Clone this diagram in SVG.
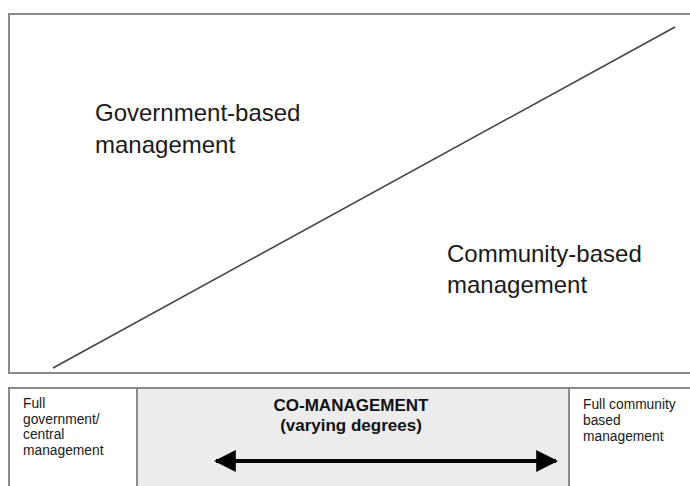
<svg xmlns="http://www.w3.org/2000/svg" width="690" height="486" viewBox="0 0 690 486">
<defs>
<style>
.frame{fill:none;stroke:#8a8a8a;stroke-width:2}
.big{font-family:"Liberation Sans",Arial,sans-serif;font-size:24px;fill:#1a1a1a}
.small{font-family:"Liberation Sans",Arial,sans-serif;font-size:13.8px;fill:#1a1a1a}
.bold{font-family:"Liberation Sans",Arial,sans-serif;font-size:17px;font-weight:bold;fill:#111;text-anchor:middle}
</style>
<marker id="ah" viewBox="0 0 10 10" refX="9" refY="5" markerWidth="5.5" markerHeight="5.5" markerUnits="strokeWidth" orient="auto-start-reverse">
<path d="M0,0 L10,5 L0,10 z" fill="#000"/>
</marker>
</defs>
<rect width="690" height="486" fill="#fff"/>
<g id="top-panel">
<path class="frame" d="M700,14 H9 V373 H700"/>
</g>
<g id="connectors">
<line x1="53" y1="368" x2="675" y2="27" stroke="#444" stroke-width="1.6"/>
</g>
<g id="government-label">
<text class="big" x="95" y="121">Government-based</text>
<text class="big" x="95" y="153">management</text>
</g>
<g id="community-label">
<text class="big" x="447" y="262">Community-based</text>
<text class="big" x="447" y="293">management</text>
</g>
<g id="bottom-panel">
<rect x="137" y="388" width="432" height="100" fill="#ececec"/>
<path class="frame" d="M9,490 V388 H700"/>
<line class="frame" x1="137" y1="388" x2="137" y2="490"/>
<line class="frame" x1="569" y1="388" x2="569" y2="490"/>
</g>
<g id="full-government">
<text class="small" x="23" y="408">Full</text>
<text class="small" x="23" y="424">government/</text>
<text class="small" x="23" y="439">central</text>
<text class="small" x="23" y="455">management</text>
</g>
<g id="co-management">
<text class="bold" x="351" y="411">CO-MANAGEMENT</text>
<text class="bold" x="351" y="431">(varying degrees)</text>
<line x1="216" y1="461" x2="556" y2="461" stroke="#000" stroke-width="4" marker-start="url(#ah)" marker-end="url(#ah)"/>
</g>
<g id="full-community">
<text class="small" x="583" y="409">Full community</text>
<text class="small" x="583" y="425">based</text>
<text class="small" x="583" y="441">management</text>
</g>
</svg>
